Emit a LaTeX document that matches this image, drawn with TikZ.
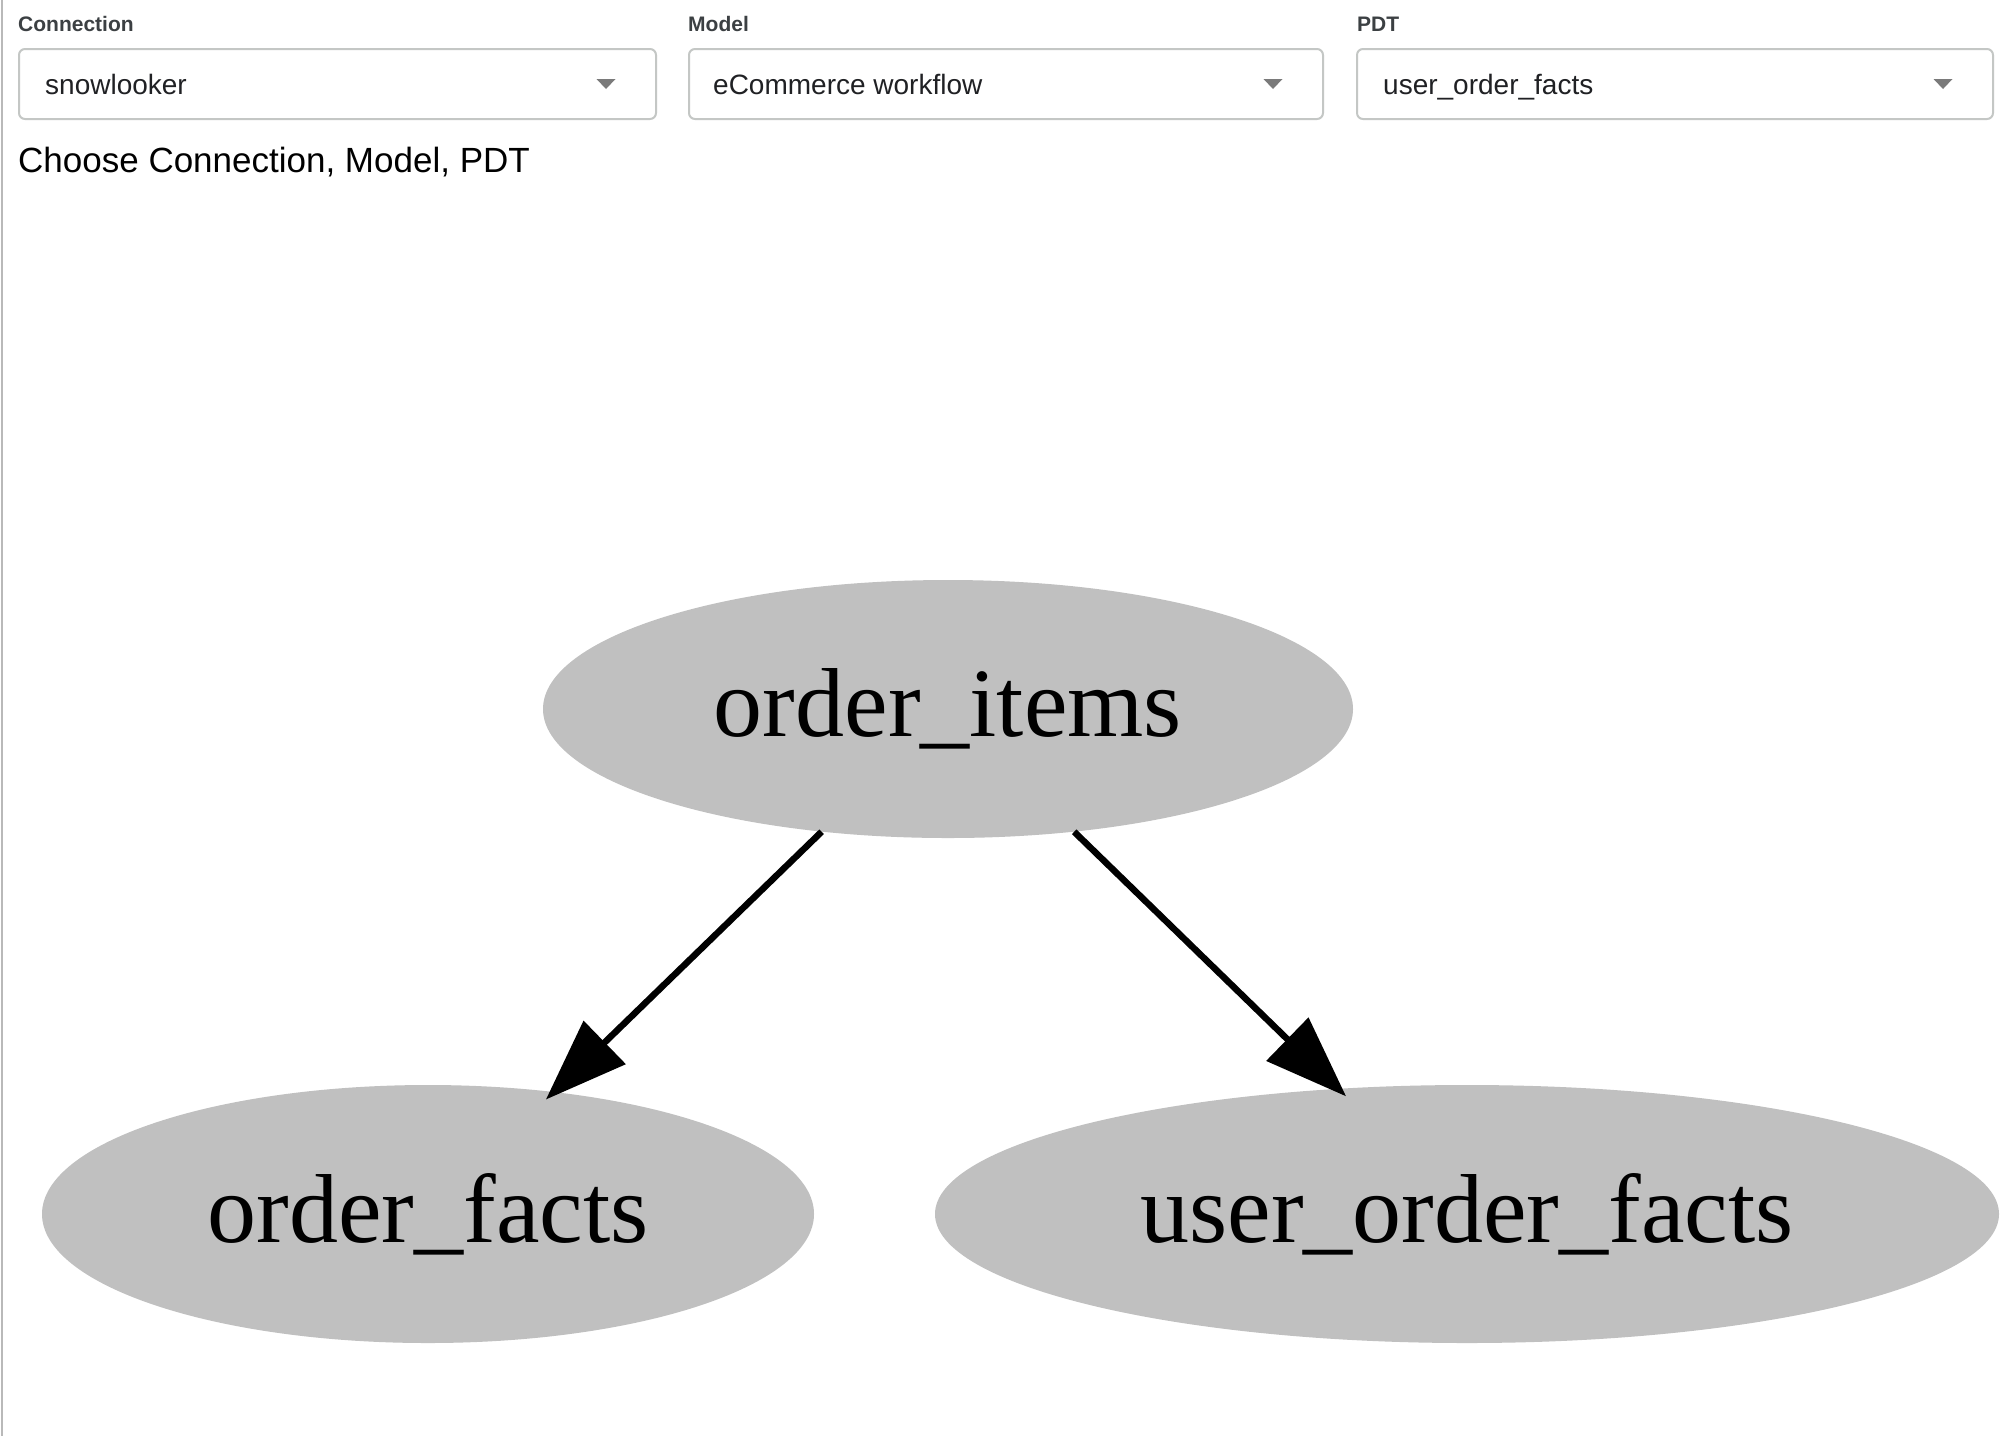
\documentclass[tikz,border=0pt]{standalone}
\usepackage{fontspec}
\setmainfont{Liberation Serif}
\newfontfamily\uifont{Liberation Sans}
\usetikzlibrary{shapes.geometric,arrows.meta}
\definecolor{nodegray}{HTML}{C0C0C0}
\definecolor{boxborder}{HTML}{C4C7C5}
\definecolor{labelcol}{HTML}{3C4043}
\definecolor{textcol}{HTML}{202124}
\definecolor{caretcol}{HTML}{7A7A7A}
\tikzset{
  graphnode/.style={ellipse, fill=nodegray, inner sep=0pt, font=\fontsize{98}{110}\selectfont},
  edge/.style={line width=6.5pt, -{Triangle[length=82pt,width=59pt]}, shorten >=-11pt},
  selectbox/.style={draw=boxborder, line width=2pt, rounded corners=6pt},
  fieldlabel/.style={anchor=base west, inner sep=0pt, text=labelcol, font=\uifont\bfseries\fontsize{21}{24}\selectfont},
  fieldvalue/.style={anchor=base west, inner sep=0pt, text=textcol, font=\uifont\fontsize{28}{32}\selectfont},
  caret/.style={fill=caretcol}
}
\begin{document}
\begin{tikzpicture}[x=1pt,y=-1pt]
\useasboundingbox[fill=white] (0,0) rectangle (2004,1436);
% left border line
\draw[gray!55, line width=2pt] (1.5,0) -- (1.5,1436);
% labels
\node[fieldlabel] (lconn) at (18,31) {Connection};
\node[fieldlabel] (lmodel) at (688,31) {Model};
\node[fieldlabel] (lpdt) at (1357,31) {PDT};
% boxes
\draw[selectbox] (19,49) rectangle (656,119);
\draw[selectbox] (689,49) rectangle (1323,119);
\draw[selectbox] (1357,49) rectangle (1993,119);
\node[fieldvalue] (vconn) at (45,94) {snowlooker};
\node[fieldvalue] (vmodel) at (713,94) {eCommerce workflow};
\node[fieldvalue] (vpdt) at (1383,94) {user\_order\_facts};
% carets
\fill[caret] (596.5,79) -- (615.5,79) -- (606,89) -- cycle;
\fill[caret] (1263.5,79) -- (1282.5,79) -- (1273,89) -- cycle;
\fill[caret] (1933.5,79) -- (1952.5,79) -- (1943,89) -- cycle;
% hint text
\node[anchor=base west, inner sep=0pt, text=black, font=\uifont\fontsize{35}{40}\selectfont] (hint) at (18,172) {Choose Connection, Model, PDT};
% graph
\node[graphnode, minimum width=810pt, minimum height=258pt] (oi) at (948,709) {order\_items};
\node[graphnode, minimum width=772pt, minimum height=258pt] (of) at (428,1214) {order\_facts};
\node[graphnode, minimum width=1064pt, minimum height=258pt] (uof) at (1467,1214) {user\_order\_facts};
\draw[edge] (oi) -- (of);
\draw[edge] (oi) -- (uof);
\end{tikzpicture}
\end{document}
